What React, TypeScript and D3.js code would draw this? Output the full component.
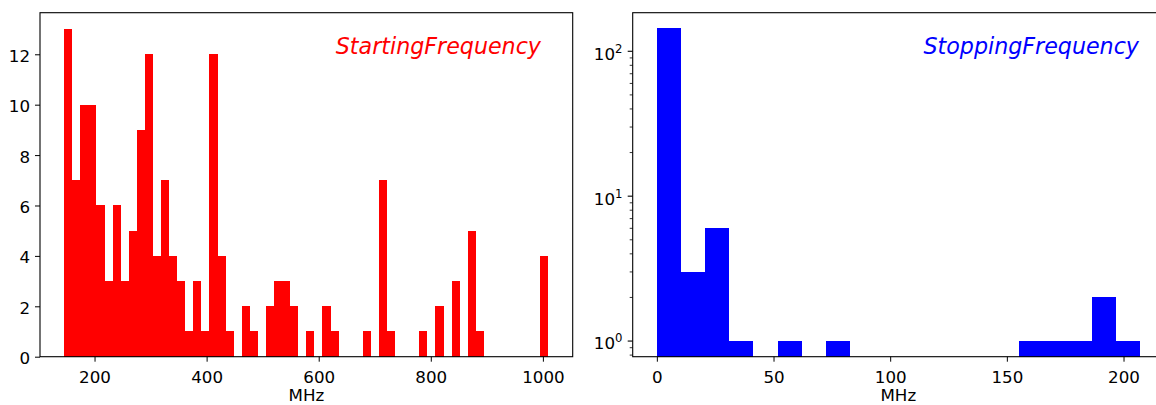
import React, { useEffect, useRef } from 'react';
import * as d3 from 'd3';

// histogram counts
const startCounts = [13, 7, 10, 10, 6, 3, 6, 3, 5, 9, 12, 4, 7, 4, 3, 1, 3, 1, 12, 4,
  1, 0, 2, 1, 0, 2, 3, 3, 2, 0, 1, 0, 2, 1, 0, 0, 0, 1, 0, 7,
  1, 0, 0, 0, 1, 0, 2, 0, 3, 0, 5, 1, 0, 0, 0, 0, 0, 0, 0, 4];
const startRange = [145.9, 1010];
const startTicks = [200, 400, 600, 800, 1000];
const startYTicks = [0, 2, 4, 6, 8, 10, 12];

const stopCounts = [144, 3, 6, 1, 0, 1, 0, 1, 0, 0, 0, 0, 0, 0, 0, 1, 1, 1, 2, 1];
const stopRange = [0, 207];
const stopTicks = [0, 50, 100, 150, 200];
const stopYTicks = [1, 10, 100];

const FONT = 'DejaVu Sans, sans-serif';

function edges(range: number[], n: number) {
  const w = (range[1] - range[0]) / n;
  return d3.range(n + 1).map(i => range[0] + i * w);
}

export default function App() {
  const ref = useRef<SVGSVGElement>(null);

  useEffect(() => {
    const svg = d3.select(ref.current);
    svg.selectAll('*').remove();

    const top = 12.7, bottom = 356.7;

    // ---------- left: StartingFrequency ----------
    const pad1 = (startRange[1] - startRange[0]) * 0.05;
    const x1 = d3.scaleLinear().domain([startRange[0] - pad1, startRange[1] + pad1]).range([40, 572.7]);
    const y1 = d3.scaleLinear().domain([0, 13 * 1.05]).range([bottom, top]);
    const e1 = edges(startRange, startCounts.length);

    startCounts.forEach((c, i) => {
      if (!c) return;
      svg.append('rect')
        .attr('x', x1(e1[i]))
        .attr('width', x1(e1[i + 1]) - x1(e1[i]))
        .attr('y', y1(c))
        .attr('height', y1(0) - y1(c))
        .attr('fill', '#ff0000')
        .attr('shape-rendering', 'crispEdges');
    });

    const ax1 = svg.append('g')
      .attr('transform', `translate(0,${bottom})`)
      .call(d3.axisBottom(x1).tickValues(startTicks).tickSize(5).tickPadding(5).tickFormat(d3.format('d')));
    const ay1 = svg.append('g')
      .attr('transform', 'translate(40,0)')
      .call(d3.axisLeft(y1).tickValues(startYTicks).tickSize(5).tickPadding(5));
    [ax1, ay1].forEach(a => {
      a.select('.domain').remove();
      a.selectAll('text').attr('font-family', FONT).attr('font-size', 16.7).attr('fill', '#000');
    });
    ay1.selectAll('text').attr('dy', '0.42em');
    ax1.selectAll('text').attr('dy', '0.95em');

    svg.append('rect')
      .attr('x', 40).attr('y', top).attr('width', 532.7).attr('height', bottom - top)
      .attr('fill', 'none').attr('stroke', '#000').attr('stroke-width', 1.1);

    svg.append('text')
      .attr('x', 306.4).attr('y', 401)
      .attr('text-anchor', 'middle')
      .attr('font-family', FONT).attr('font-size', 16.7)
      .text('MHz');

    svg.append('text')
      .attr('x', 541).attr('y', 53.5)
      .attr('text-anchor', 'end')
      .attr('font-family', FONT).attr('font-style', 'italic').attr('font-size', 22.2)
      .attr('fill', '#ff0000')
      .text('StartingFrequency');

    // ---------- right: StoppingFrequency (log) ----------
    const pad2 = (stopRange[1] - stopRange[0]) * 0.05;
    const x2 = d3.scaleLinear().domain([stopRange[0] - pad2, stopRange[1] + pad2]).range([632.7, 1164]);
    const lmax = Math.log10(d3.max(stopCounts) as number);
    const y2 = d3.scaleLog().domain([Math.pow(10, -0.05 * lmax), Math.pow(10, lmax * 1.05)]).range([bottom, top]);
    const e2 = edges(stopRange, stopCounts.length);

    stopCounts.forEach((c, i) => {
      if (!c) return;
      svg.append('rect')
        .attr('x', x2(e2[i]))
        .attr('width', x2(e2[i + 1]) - x2(e2[i]))
        .attr('y', y2(c))
        .attr('height', bottom - y2(c))
        .attr('fill', '#0000ff')
        .attr('shape-rendering', 'crispEdges');
    });

    const ax2 = svg.append('g')
      .attr('transform', `translate(0,${bottom})`)
      .call(d3.axisBottom(x2).tickValues(stopTicks).tickSize(5).tickPadding(5).tickFormat(d3.format('d')));
    ax2.select('.domain').remove();
    ax2.selectAll('text').attr('font-family', FONT).attr('font-size', 16.7).attr('fill', '#000').attr('dy', '0.95em');

    // minor ticks
    const minor = y2.ticks().filter(v => stopYTicks.indexOf(v) < 0);
    svg.append('g').selectAll('line').data(minor).enter().append('line')
      .attr('x1', 632.7 - 3).attr('x2', 632.7)
      .attr('y1', d => y2(d)).attr('y2', d => y2(d))
      .attr('stroke', '#000').attr('stroke-width', 0.8);

    const ay2 = svg.append('g');
    stopYTicks.forEach(v => {
      ay2.append('line')
        .attr('x1', 632.7 - 5).attr('x2', 632.7)
        .attr('y1', y2(v)).attr('y2', y2(v))
        .attr('stroke', '#000').attr('stroke-width', 1.1);
      const t = ay2.append('text')
        .attr('x', 622.5).attr('y', y2(v) + 8.4)
        .attr('text-anchor', 'end')
        .attr('font-family', FONT).attr('font-size', 16.7);
      t.append('tspan').text('10');
      t.append('tspan').attr('font-size', 11.7).attr('dy', -7).text(String(Math.round(Math.log10(v))));
    });

    svg.append('rect')
      .attr('x', 632.7).attr('y', top).attr('width', 531.3).attr('height', bottom - top)
      .attr('fill', 'none').attr('stroke', '#000').attr('stroke-width', 1.1);

    svg.append('text')
      .attr('x', 898.3).attr('y', 401)
      .attr('text-anchor', 'middle')
      .attr('font-family', FONT).attr('font-size', 16.7)
      .text('MHz');

    svg.append('text')
      .attr('x', 1139).attr('y', 53.5)
      .attr('text-anchor', 'end')
      .attr('font-family', FONT).attr('font-style', 'italic').attr('font-size', 22.2)
      .attr('fill', '#0000ff')
      .text('StoppingFrequency');
  }, []);

  return (
    <svg ref={ref} width={1156} height={405}
      style={{ position: 'absolute', left: 0, top: 0, background: '#fff' }} />
  );
}
